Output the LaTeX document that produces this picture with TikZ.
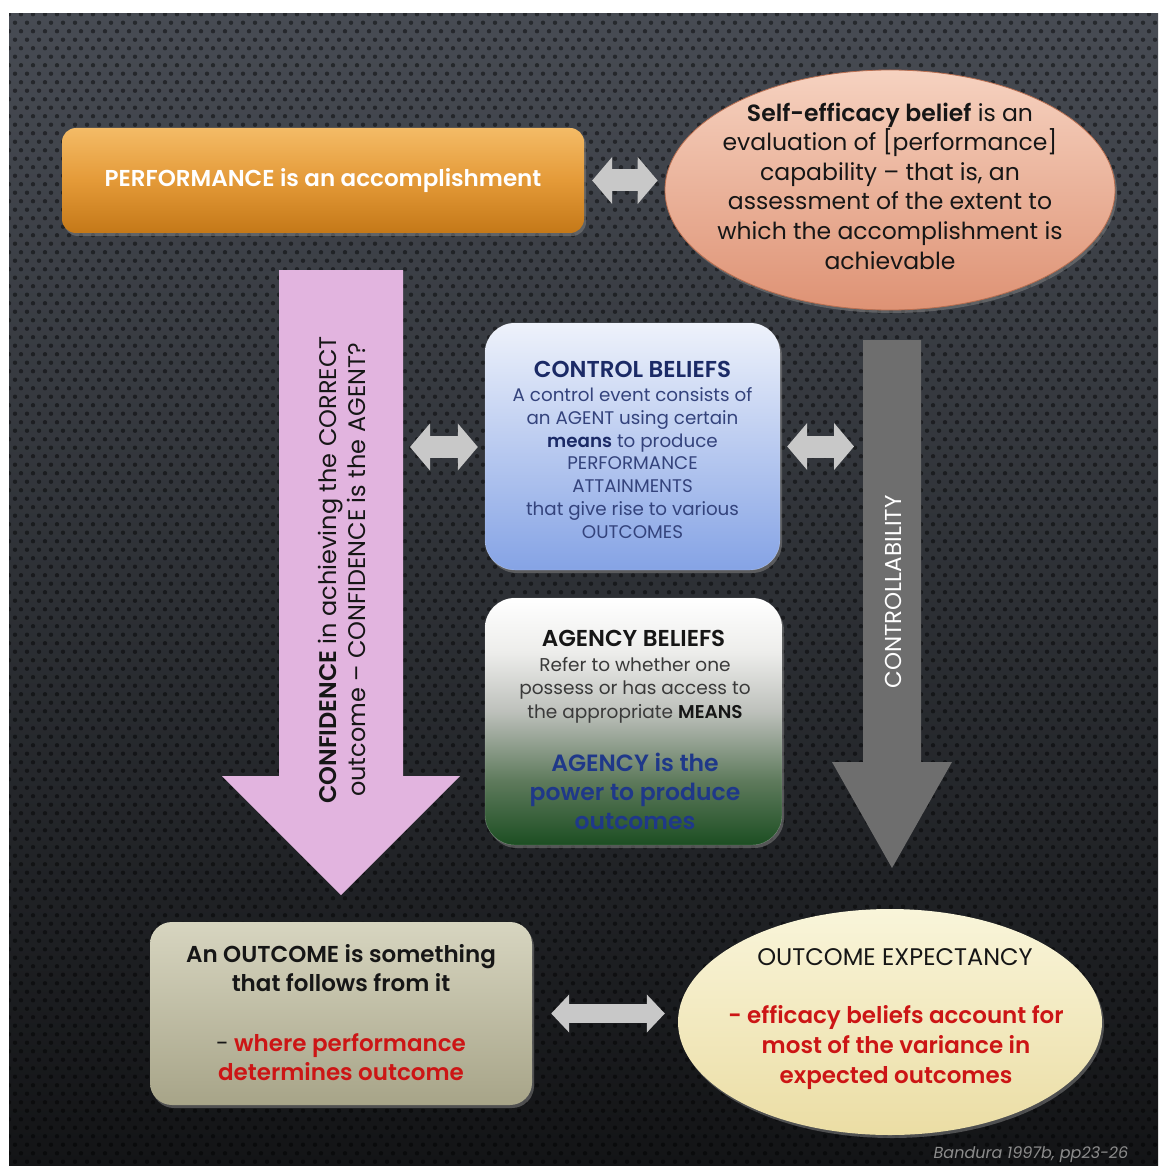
\documentclass[tikz,border=0pt]{standalone}
\usepackage{fontspec}
\IfFontExistsTF{Poppins SemiBold}
  {\setmainfont{Poppins}[BoldFont={Poppins SemiBold}]}
  {\setmainfont{Poppins}}
\usetikzlibrary{arrows.meta,shapes.geometric,shadows,patterns}

% palette
\definecolor{bgtop}{HTML}{474B53}
\definecolor{bgmid}{HTML}{2D3035}
\definecolor{bgbot}{HTML}{131416}
\definecolor{orgtop}{HTML}{F4BB66}
\definecolor{orgmid}{HTML}{E49A38}
\definecolor{orgbot}{HTML}{C47818}
\definecolor{peachtop}{HTML}{F6D2C0}
\definecolor{peachbot}{HTML}{DE9274}
\definecolor{peachedge}{HTML}{B86E50}
\definecolor{orchid}{HTML}{E2B4DF}
\definecolor{slate}{HTML}{6E6E6E}
\definecolor{arrowgray}{HTML}{C8C8C8}
\definecolor{bluetop}{HTML}{EEF2FB}
\definecolor{bluebot}{HTML}{85A3E5}
\definecolor{greenbot}{HTML}{1C4E22}
\definecolor{greenmid}{HTML}{5E7A5C}
\definecolor{greymid}{HTML}{BDC0BB}
\definecolor{paleg}{HTML}{EDEDEB}
\definecolor{khakitop}{HTML}{D7D5C0}
\definecolor{khakibot}{HTML}{A7A488}
\definecolor{creamtop}{HTML}{F9F5DA}
\definecolor{creambot}{HTML}{EBDDA4}
\definecolor{navy}{HTML}{1B2A66}
\definecolor{navytext}{HTML}{34437C}
\definecolor{agencyblue}{HTML}{1F3889}
\definecolor{redtext}{HTML}{CC1515}
\definecolor{ink}{HTML}{161616}
\definecolor{bodygray}{HTML}{3A3A3A}
\definecolor{credit}{HTML}{8C8C8C}

% white at the top fading to dark green at the bottom
\pgfdeclareverticalshading{agencyshade}{100bp}{color(0bp)=(greenbot); color(25bp)=(greenbot); color(38bp)=(greenmid); color(52bp)=(greymid); color(64bp)=(paleg); color(75bp)=(white); color(100bp)=(white)}

% perforated-metal texture
\pgfdeclarepatternformonly{carbon}{\pgfqpoint{-1pt}{-1pt}}{\pgfqpoint{13pt}{18pt}}{\pgfqpoint{12pt}{17pt}}{%
  \pgfpathcircle{\pgfqpoint{3pt}{4.25pt}}{2.2pt}%
  \pgfpathcircle{\pgfqpoint{9pt}{12.75pt}}{2.2pt}%
  \pgfusepath{fill}}

\newcommand{\fsz}[2]{\fontsize{#1}{#2}\selectfont}

\begin{document}
\begin{tikzpicture}[x=1pt,y=-1pt,
  dbl/.style={draw=arrowgray, line width=22pt, {Triangle[length=20pt,width=46pt]}-{Triangle[length=20pt,width=46pt]}},
  dblsmall/.style={draw=arrowgray, line width=19pt, {Triangle[length=18pt,width=37pt]}-{Triangle[length=18pt,width=37pt]}},
  panel/.style={rectangle, rounded corners=#1, inner sep=0pt, drop shadow={shadow xshift=2pt, shadow yshift=-3pt, opacity=0.55}},
  oval/.style={ellipse, inner sep=0pt, drop shadow={shadow xshift=2pt, shadow yshift=-3pt, opacity=0.55}},
  txt/.style={align=center, inner sep=0pt},
]
\useasboundingbox (0,0) rectangle (1158,1166);

% background
\fill[white] (0,0) rectangle (1158,1166);
\shade[top color=bgtop, bottom color=bgbot, middle color=bgmid] (9,14) rectangle (1158,1166);
\fill[pattern=carbon, pattern color=black, fill opacity=0.45] (9,14) rectangle (1158,1166);

% performance
\node[panel=14, minimum width=522pt, minimum height=105pt,
      top color=orgtop, bottom color=orgbot, middle color=orgmid,
      text=white, font=\fsz{23}{26}\bfseries] (perf) at (323,180.5) {PERFORMANCE is an accomplishment};

% self-efficacy belief
\node[oval, minimum width=450pt, minimum height=240pt, top color=peachtop, bottom color=peachbot,
      draw=peachedge, line width=0.8pt] (se) at (890,190) {};
\node[txt, text=ink, font=\fsz{23.5}{29.6}] (set) at (890,186)
  {\textbf{Self-efficacy belief} is an\\evaluation of [performance]\\capability – that is, an\\assessment of the extent to\\which the accomplishment is\\achievable};

% confidence arrow
\fill[orchid] (279,270) -- (403,270) -- (403,776) -- (460,776) -- (341,895) -- (222,776) -- (279,776) -- cycle;
\node[txt, rotate=90, text=ink, font=\fsz{24}{29}] (conf) at (342,570)
  {\textbf{CONFIDENCE} in achieving the CORRECT\\outcome – CONFIDENCE is the AGENT?};

% controllability arrow
\fill[slate] (863,340) -- (921,340) -- (921,762) -- (952,762) -- (892,868) -- (832,762) -- (863,762) -- cycle;
\node[txt, rotate=90, text=white, font=\fsz{23}{26}] (ctl) at (893,592) {CONTROLLABILITY};

% control beliefs
\node[panel=30, minimum width=295pt, minimum height=247pt, top color=bluetop, bottom color=bluebot,
      draw=white, draw opacity=0.35] (ctrl) at (632.5,446.5) {};
\node[txt, text=navy, font=\fsz{23}{26}\bfseries] (ctrltitle) at (632.5,369) {CONTROL BELIEFS};
\node[txt, text=navytext, font=\fsz{18.3}{22.8}] (ctrlbody) at (632.5,463)
  {A control event consists of\\an AGENT using certain\\{\bfseries\color{navy}means} to produce\\PERFORMANCE\\ATTAINMENTS\\that give rise to various\\OUTCOMES};

% agency beliefs
\node[panel=30, minimum width=297pt, minimum height=247pt, shading=agencyshade,
      draw=white, draw opacity=0.3] (agency) at (633.5,721.5) {};
\node[txt, text=ink, font=\fsz{23}{26}\bfseries] (agtitle) at (633.5,638) {AGENCY BELIEFS};
\node[txt, text=bodygray, font=\fsz{18.5}{23.5}] (agbody) at (635,690)
  {Refer to whether one\\possess or has access to\\the appropriate {\bfseries\color{ink}MEANS}};
\node[txt, text=agencyblue, font=\fsz{23.5}{29}\bfseries] (agpower) at (635,791)
  {AGENCY is the\\power to produce\\outcomes};

% outcome
\node[panel=22, minimum width=382pt, minimum height=183pt, top color=khakitop, bottom color=khakibot] (outc) at (341,1013.5) {};
\node[txt, text=ink, font=\fsz{23}{28.5}\bfseries] (outct) at (341,968) {An OUTCOME is something\\that follows from it};
\node[txt, text=redtext, font=\fsz{23}{29}\bfseries] (outcr) at (341,1057) {{\color{ink}\mdseries -} where performance\\determines outcome};

% outcome expectancy
\node[oval, minimum width=424pt, minimum height=226pt, top color=creamtop, bottom color=creambot] (oe) at (890,1022) {};
\node[txt, text=ink, font=\fsz{24}{26}] (oet) at (895,957) {OUTCOME EXPECTANCY};
\node[txt, text=redtext, font=\fsz{23}{30}\bfseries] (oer) at (896,1048)
  {- efficacy beliefs account for\\most of the variance in\\expected outcomes};

% two-way links
\coordinate (confR) at (403,447);
\coordinate (ctlL) at (863,447);
\draw[dbl, shorten <=8pt, shorten >=7pt] (perf.east) -- (perf.east -| se.west);
\draw[dbl, shorten <=7pt, shorten >=7pt] (confR) -- (confR -| ctrl.west);
\draw[dbl, shorten <=7pt, shorten >=9pt] (ctrl.east) -- (ctrl.east -| ctlL);
\draw[dblsmall, shorten <=19pt, shorten >=13pt] (outc.east) -- (outc.east -| oe.west);

% source
\node[txt, text=credit, font=\fsz{16}{18}\itshape] (cite) at (1031,1155) {Bandura 1997b, pp23-26};
\end{tikzpicture}
\end{document}
